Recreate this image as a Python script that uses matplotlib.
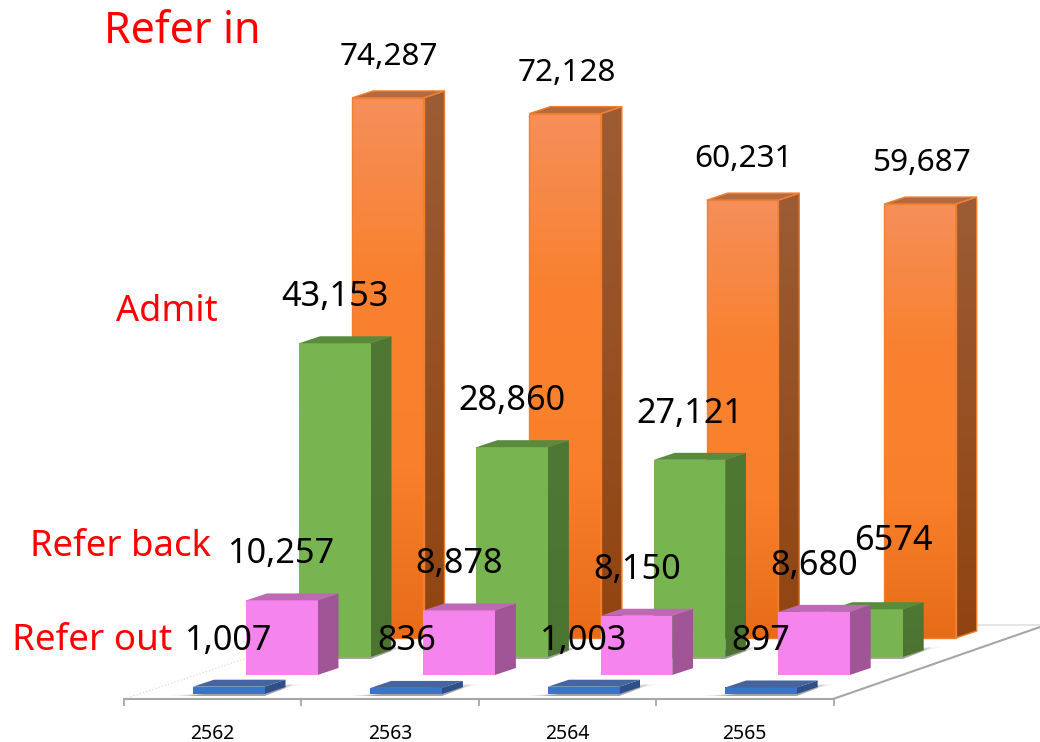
import numpy as np
import matplotlib
matplotlib.use("Agg")
import matplotlib.pyplot as plt
from matplotlib.patches import Polygon
from matplotlib.colors import LinearSegmentedColormap

years = ["2562", "2563", "2564", "2565"]
refer_in = [74287, 72128, 60231, 59687]
admit = [43153, 28860, 27121, 6574]
refer_back = [10257, 8878, 8150, 8680]
refer_out = [1007, 836, 1003, 897]

refer_in_labels = ["74,287", "72,128", "60,231", "59,687"]
admit_labels = ["43,153", "28,860", "27,121", "6574"]
refer_back_labels = ["10,257", "8,878", "8,150", "8,680"]
refer_out_labels = ["1,007", "836", "1,003", "897"]

# px per unit on the value axis, and the spacing of categories
SCALE = 0.00727
STEP = 177.4
BAR_W = 71.5
DX, DY = 21, -7


def grad_rect(ax, x0, x1, y0, y1, poly, colors):
    # vertical gradient clipped to the polygon
    cm = LinearSegmentedColormap.from_list("g", colors)
    img = ax.imshow(
        np.linspace(0, 1, 256).reshape(-1, 1),
        extent=[x0, x1, y1, y0],
        cmap=cm,
        aspect="auto",
        interpolation="bilinear",
        zorder=ax._z,
    )
    patch = Polygon(poly, closed=True, transform=ax.transData, fc="none", ec="none")
    ax.add_patch(patch)
    img.set_clip_path(patch)


def bar3d(ax, x, base, h, style):
    top = base - h
    xr = x + BAR_W
    ax._z += 1
    front = [(x, base), (xr, base), (xr, top), (x, top)]
    side = [(xr, base), (xr + DX, base + DY), (xr + DX, top + DY), (xr, top)]
    cap = [(x, top), (xr, top), (xr + DX, top + DY), (x + DX, top + DY)]
    grad_rect(ax, xr, xr + DX, top + DY, base, side, style["side"])
    grad_rect(ax, x, xr, top, base, front, style["front"])
    ax.add_patch(Polygon(cap, closed=True, fc=style["cap"], ec=style["edge"], lw=style["lw"], zorder=ax._z))
    if style["lw"] > 0:
        for pts in (front, side):
            ax.add_patch(Polygon(pts, closed=True, fc="none", ec=style["edge"], lw=style["lw"], zorder=ax._z))


fig = plt.figure(figsize=(10.4, 7.42), dpi=100)
ax = fig.add_axes([0, 0, 1, 1])
ax._z = 3
ax.axis("off")

# floor
ax.plot([124, 833, 1040], [699, 699, 627], color="#A6A6A6", lw=1.5, zorder=1)
ax.plot([978, 1040], [625, 625], color="#E0E0E0", lw=1.2, zorder=1)
ax.plot([124, 247], [699, 658], color="#DDDDDD", lw=0.9, ls=":", zorder=1)
for i in range(len(years) + 1):
    ax.plot([124 + i * STEP] * 2, [699, 705], color="#A6A6A6", lw=1.3, zorder=1)

series = [
    (refer_in, 352, 638, {"front": ["#F58F5A", "#F9812F", "#FA802B", "#E86C18"], "side": ["#9C5C35", "#904410"],
                          "cap": "#B4693F", "edge": "#F08030", "lw": 1.0}),
    (admit, 299, 657, {"front": ["#78B551", "#78B551"], "side": ["#4E7833", "#4C7431"],
                       "cap": "#5A8B3C", "edge": "#5A8B3C", "lw": 0}),
    (refer_back, 246, 675, {"front": ["#F684EE", "#F684EE"], "side": ["#A05596", "#A05596"],
                            "cap": "#BE69B3", "edge": "#BE69B3", "lw": 0}),
    (refer_out, 193, 694, {"front": ["#3E72CC", "#3E72CC"], "side": ["#2F4F8A", "#2F4F8A"],
                           "cap": "#46649D", "edge": "#46649D", "lw": 0}),
]

for vals, x0, base, st in series:
    for i, v in enumerate(vals):
        x = x0 + i * STEP
        # soft floor shadow for the two rows that show one
        if base in (657, 694):
            for grow, al in ((0, 0.3), (9, 0.18), (18, 0.1)):
                ax.add_patch(Polygon(
                    [(x - 4 - grow, base + 2), (x + BAR_W, base + 2),
                     (x + BAR_W + DX, base + DY + 1), (x + BAR_W + 20 + grow, base + DY - 3)],
                    closed=True, fc="#444444", ec="none", alpha=al, zorder=ax._z,
                ))
        bar3d(ax, x, base, v * SCALE, st)

# value labels, the orange row is set a bit smaller in the original
LABEL_FS = 22.7
LABEL_FS_BIG = 24.7
for i, lab in enumerate(refer_in_labels):
    ax.text(352 + i * STEP + 37, 638 - refer_in[i] * SCALE - 41, lab, fontsize=LABEL_FS,
            ha="center", va="center", family="Noto Sans", zorder=50)
for i, lab in enumerate(admit_labels):
    if i < 3:
        xt, yt = 299 + i * STEP + 36, 657 - admit[i] * SCALE - 46
    else:
        xt, yt = 299 + i * STEP + 62, 657 - admit[i] * SCALE - 68
    ax.text(xt, yt, lab, fontsize=LABEL_FS_BIG, ha="center", va="center", family="Noto Sans", zorder=50)
for i, lab in enumerate(refer_back_labels):
    ax.text(246 + i * STEP + 36, 675 - refer_back[i] * SCALE - 46, lab, fontsize=LABEL_FS_BIG,
            ha="center", va="center", family="Noto Sans", zorder=50)
for i, lab in enumerate(refer_out_labels):
    ax.text(193 + i * STEP + 36, 641, lab, fontsize=LABEL_FS_BIG,
            ha="center", va="center", family="Noto Sans", zorder=50)

# category labels
for i, y in enumerate(years):
    ax.text(212.5 + i * STEP, 734, y, fontsize=14, ha="center", va="center", family="Noto Sans", zorder=50)

# series names
ax.text(182.5, 32, "Refer in", color="#FF0000", fontsize=31, ha="center", va="center", family="Noto Sans", zorder=50)
ax.text(167, 312, "Admit", color="#FF0000", fontsize=26, ha="center", va="center", family="Noto Sans", zorder=50)
ax.text(120.5, 547, "Refer back", color="#FF0000", fontsize=26.3, ha="center", va="center", family="Noto Sans", zorder=50)
ax.text(92, 641, "Refer out", color="#FF0000", fontsize=26.5, ha="center", va="center", family="Noto Sans", zorder=50)

ax.set_xlim(0, 1040)
ax.set_ylim(742, 0)
fig.savefig("out.png", dpi=100)
plt.close()
